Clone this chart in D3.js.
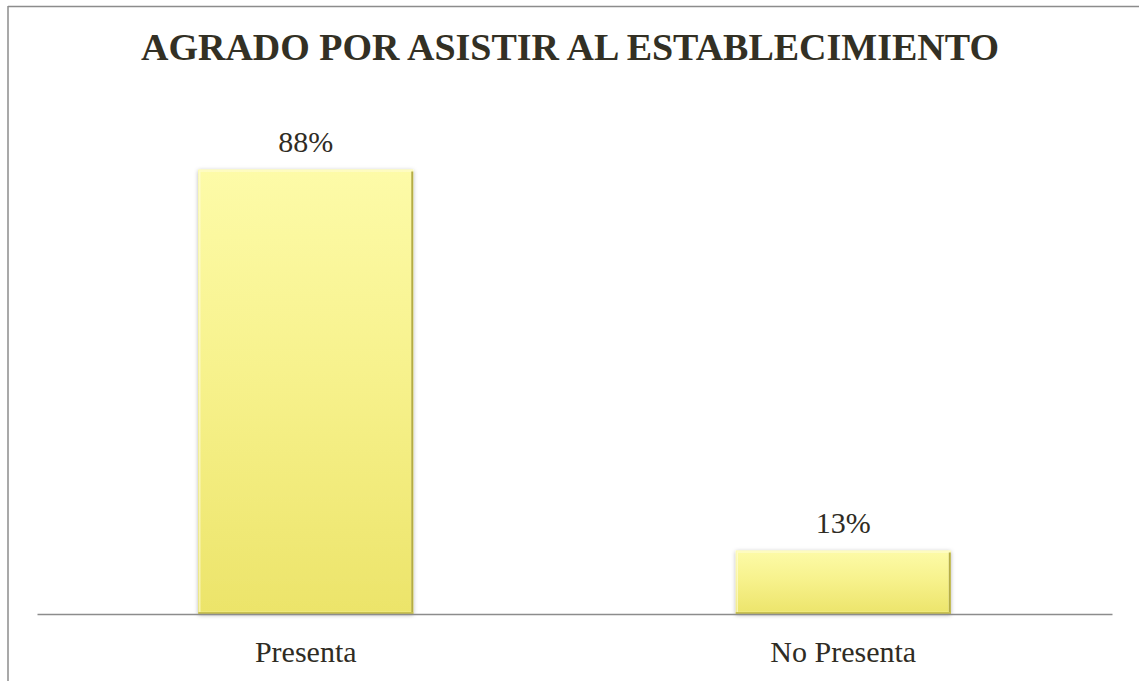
<!DOCTYPE html>
<html>
<head>
<meta charset="utf-8">
<script src="https://cdn.jsdelivr.net/npm/d3@7"></script>
<style>
  body { margin: 0; background: #fff; }
  svg { display: block; }
</style>
</head>
<body>
<div id="chart"></div>
<script>
const categories = ["Presenta", "No Presenta"];
const values = [0.875, 0.125];
const valueLabels = ["88%", "13%"];
const title = "AGRADO POR ASISTIR AL ESTABLECIMIENTO";

const width = 1139;
const height = 681;
const margin = { left: 37, right: 27, top: 106, bottom: 67 };
const plotBottom = height - margin.bottom;
const serif = "'Liberation Serif', 'Times New Roman', serif";

const svg = d3.select("#chart")
    .append("svg")
    .attr("width", width)
    .attr("height", height);

const defs = svg.append("defs");

const grad = defs.append("linearGradient")
    .attr("id", "barFill")
    .attr("x1", 0).attr("y1", 0)
    .attr("x2", 0).attr("y2", 1);
grad.append("stop").attr("offset", "0%").attr("stop-color", "#fdfba8");
grad.append("stop").attr("offset", "45%").attr("stop-color", "#f7f28d");
grad.append("stop").attr("offset", "100%").attr("stop-color", "#ece46a");

const shadow = defs.append("filter")
    .attr("id", "shadow")
    .attr("x", "-10%").attr("y", "-10%")
    .attr("width", "120%").attr("height", "120%");
shadow.append("feDropShadow")
    .attr("dx", 0).attr("dy", 1)
    .attr("stdDeviation", 2)
    .attr("flood-color", "#000")
    .attr("flood-opacity", 0.3);

// chart frame (only top and left edges visible)
svg.append("line")
    .attr("x1", 8).attr("y1", 6.5)
    .attr("x2", width).attr("y2", 6.5)
    .attr("stroke", "#8c8c8c").attr("stroke-width", 1.5);
svg.append("line")
    .attr("x1", 8).attr("y1", 6)
    .attr("x2", 8).attr("y2", height)
    .attr("stroke", "#8c8c8c").attr("stroke-width", 1.5);

svg.append("text")
    .attr("x", 570)
    .attr("y", 60)
    .attr("text-anchor", "middle")
    .attr("font-family", serif)
    .attr("font-weight", "bold")
    .attr("font-size", "38px")
    .attr("fill", "#333024")
    .text(title);

const x = d3.scaleBand()
    .domain(categories)
    .range([margin.left, width - margin.right]);

const y = d3.scaleLinear()
    .domain([0, 1])
    .range([plotBottom, margin.top]);

const barWidth = x.bandwidth() * 0.4;

const bars = svg.append("g")
    .selectAll("g")
    .data(categories)
    .enter().append("g")
    .attr("transform", d => `translate(${x(d) + x.bandwidth() / 2 - barWidth / 2},0)`);

bars.append("rect")
    .attr("y", (d, i) => y(values[i]))
    .attr("width", barWidth)
    .attr("height", (d, i) => plotBottom - y(values[i]))
    .attr("fill", "url(#barFill)")
    .attr("filter", "url(#shadow)");

// bevel edges
bars.append("rect")
    .attr("x", 1.5)
    .attr("y", (d, i) => y(values[i]) + 1.5)
    .attr("width", barWidth - 3)
    .attr("height", (d, i) => plotBottom - y(values[i]) - 3)
    .attr("fill", "none")
    .attr("stroke", "#fffde0")
    .attr("stroke-opacity", 0.6)
    .attr("stroke-width", 1.5);
bars.append("line")
    .attr("x1", barWidth - 1).attr("x2", barWidth - 1)
    .attr("y1", (d, i) => y(values[i]) + 2)
    .attr("y2", plotBottom)
    .attr("stroke", "#b5ad45").attr("stroke-width", 2);
bars.append("line")
    .attr("x1", 0).attr("x2", barWidth)
    .attr("y1", plotBottom - 1).attr("y2", plotBottom - 1)
    .attr("stroke", "#c9c150").attr("stroke-width", 2);

bars.append("text")
    .attr("x", barWidth / 2)
    .attr("y", (d, i) => y(values[i]) - 18)
    .attr("text-anchor", "middle")
    .attr("font-family", serif)
    .attr("font-size", "30px")
    .attr("fill", "#2f2c24")
    .text((d, i) => valueLabels[i]);

// axis
const xAxis = svg.append("g")
    .attr("transform", `translate(0,${plotBottom})`)
    .call(d3.axisBottom(x).tickSize(0).tickPadding(27));
xAxis.select(".domain")
    .attr("stroke", "#8c8c8c")
    .attr("stroke-width", 1.5);
xAxis.selectAll("text")
    .attr("font-family", serif)
    .attr("font-size", "30px")
    .attr("fill", "#2f2c24");
</script>
</body>
</html>
